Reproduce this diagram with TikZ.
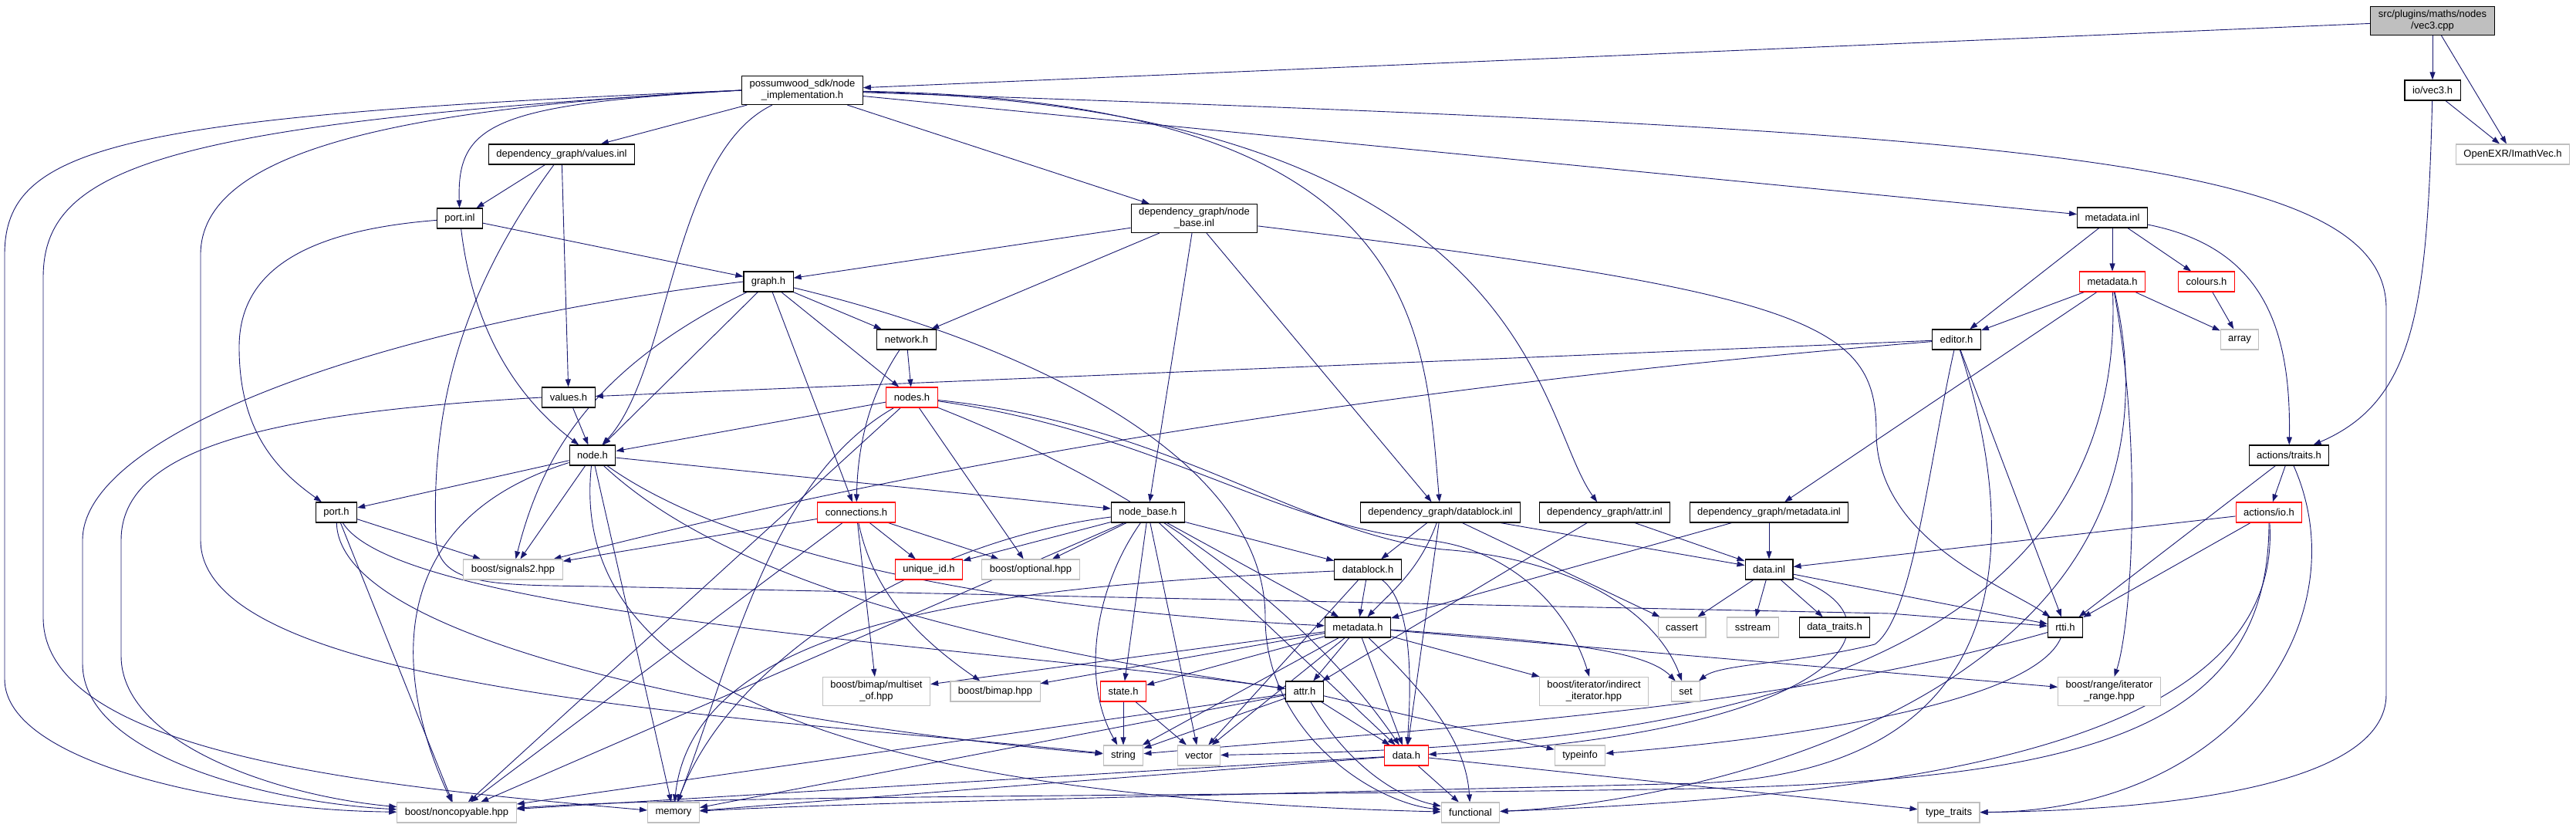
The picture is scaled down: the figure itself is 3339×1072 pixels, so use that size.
\documentclass[tikz,border=0pt]{standalone}
\usepackage{fontspec}
\setmainfont{Liberation Sans}
\usetikzlibrary{arrows.meta,backgrounds}
\definecolor{edgeblue}{HTML}{191970}
\definecolor{sysgrey}{HTML}{BFBFBF}
\definecolor{mainfill}{HTML}{BFBFBF}

\begin{document}
\begin{tikzpicture}[x=1pt,y=-1pt,
    hdr/.style={draw=black,line width=1.1pt,fill=white,inner xsep=10pt,inner ysep=5pt,
      minimum height=26pt,align=center,font=\fontsize{13}{15}\selectfont},
    hdrred/.style={hdr,draw=red},
    hdrsys/.style={hdr,draw=sysgrey},
    hdrmain/.style={hdr,fill=mainfill},
    incl/.style={edgeblue,line width=0.9pt,-{Triangle[length=10pt,width=7pt]}}]
  \useasboundingbox (0,0) rectangle (3339,1072);
  \node[hdrmain] (vec3cpp) at (3153,27) {src/plugins/maths/nodes\\/vec3.cpp};
  \node[hdr] (nodeimpl) at (1040,117) {possumwood\_sdk/node\\\_implementation.h};
  \node[hdr] (iovec) at (3153,117) {io/vec3.h};
  \node[hdrsys] (imathvec) at (3257,200) {OpenEXR/ImathVec.h};
  \node[hdr] (valuesinl) at (728,200) {dependency\_graph/values.inl};
  \node[hdr] (portinl) at (596,283) {port.inl};
  \node[hdr] (nodebaseinl) at (1548,283) {dependency\_graph/node\\\_base.inl};
  \node[hdr] (metainl) at (2738,282) {metadata.inl};
  \node[hdr] (graphh) at (996,365) {graph.h};
  \node[hdrred] (metaredh) at (2738,365) {metadata.h};
  \node[hdrred] (coloursh) at (2860,365) {colours.h};
  \node[hdr] (networkh) at (1175,440) {network.h};
  \node[hdr] (editorh) at (2536,440) {editor.h};
  \node[hdrsys] (arrayh) at (2903,440) {array};
  \node[hdr] (valuesh) at (737,515) {values.h};
  \node[hdrred] (nodesh) at (1182,515) {nodes.h};
  \node[hdr] (nodeh) at (768,590) {node.h};
  \node[hdr] (traitsh) at (2967,590) {actions/traits.h};
  \node[hdr] (porth) at (436,664) {port.h};
  \node[hdrred] (connh) at (1110,664) {connections.h};
  \node[hdr] (nodebaseh) at (1488,664) {node\_base.h};
  \node[hdr] (datablockinl) at (1867,664) {dependency\_graph/datablock.inl};
  \node[hdr] (attrinl) at (2080,664) {dependency\_graph/attr.inl};
  \node[hdr] (dgmetainl) at (2293,664) {dependency\_graph/metadata.inl};
  \node[hdrred] (ioh) at (2941,664) {actions/io.h};
  \node[hdrsys] (signals) at (665,738) {boost/signals2.hpp};
  \node[hdrred] (uniqueid) at (1204,738) {unique\_id.h};
  \node[hdrsys] (optional) at (1336,738) {boost/optional.hpp};
  \node[hdr] (datablockh) at (1773,738) {datablock.h};
  \node[hdr] (datainl) at (2293,738) {data.inl};
  \node[hdr] (metah) at (1760,813) {metadata.h};
  \node[hdrsys] (cassert) at (2180,813) {cassert};
  \node[hdrsys] (sstream) at (2272,813) {sstream};
  \node[hdr] (datatraits) at (2378,813) {data\_traits.h};
  \node[hdr] (rttih) at (2677,813) {rtti.h};
  \node[hdrsys] (multiset) at (1136,896) {boost/bimap/multiset\\\_of.hpp};
  \node[hdrsys] (bimap) at (1290,896) {boost/bimap.hpp};
  \node[hdrred] (stateh) at (1456,896) {state.h};
  \node[hdr] (attrh) at (1691,896) {attr.h};
  \node[hdrsys] (indirect) at (2066,896) {boost/iterator/indirect\\\_iterator.hpp};
  \node[hdrsys] (seth) at (2185,896) {set};
  \node[hdrsys] (range) at (2734,896) {boost/range/iterator\\\_range.hpp};
  \node[hdrsys] (stringh) at (1456,979) {string};
  \node[hdrsys] (vectorh) at (1554,979) {vector};
  \node[hdrred] (datah) at (1823,979) {data.h};
  \node[hdrsys] (typeinfo) at (2048,979) {typeinfo};
  \node[hdrsys] (noncopy) at (592,1053) {boost/noncopyable.hpp};
  \node[hdrsys] (memory) at (873,1053) {memory};
  \node[hdrsys] (functional) at (1906,1053) {functional};
  \node[hdrsys] (typetraits) at (2526,1053) {type\_traits};
  \begin{scope}[on background layer]
    \fill[white] (0,0) rectangle (3339,1072);
    \draw[incl] (vec3cpp) -- (nodeimpl);
    \draw[incl] (vec3cpp) -- (iovec);
    \draw[incl] (vec3cpp) -- (imathvec);
    \draw[incl] (iovec) -- (imathvec);
    \draw[incl] (iovec) .. controls (3146,400) and (3130,520) .. (traitsh);
    \draw[incl] (nodeimpl) -- (valuesinl);
    \draw[incl] (nodeimpl) -- (nodebaseinl);
    \draw[incl] (nodeimpl) -- (metainl);
    \draw[incl] (nodeimpl.west) .. controls (640,135) and (592,160) .. (portinl);
    \draw[incl] (nodeimpl) .. controls (870,200) and (870,480) .. (nodeh);
    \draw[incl] (nodeimpl) .. controls (1846,130) and (1846,420) .. (datablockinl);
    \draw[incl] (nodeimpl) .. controls (1990,140) and (1990,540) .. (attrinl);
    \draw[incl] (nodeimpl) .. controls (2600,170) and (3093,200) .. (3093,400) -- (3093,900)
      .. controls (3093,1020) and (2800,1050) .. (typetraits);
    \draw[incl] (nodeimpl.west) .. controls (150,150) and (6,190) .. (6,330) -- (6,880)
      .. controls (6,990) and (300,1050) .. (noncopy);
    \draw[incl] (nodeimpl.west) .. controls (200,160) and (56,220) .. (56,360) -- (56,800)
      .. controls (56,980) and (500,1020) .. (memory);
    \draw[incl] (nodeimpl.west) .. controls (500,140) and (260,200) .. (260,330) -- (260,700)
      .. controls (260,900) and (1000,930) .. (stringh);
    \draw[incl] (valuesinl) -- (portinl);
    \draw[incl] (valuesinl) -- (valuesh);
    \draw[incl] (valuesinl) .. controls (580,400) and (560,560) .. (565,700)
      .. controls (570,760) and (640,758) .. (780,760) -- (2450,795) -- (rttih);
    \draw[incl] (portinl) -- (graphh);
    \draw[incl] (portinl) .. controls (610,400) and (650,500) .. (nodeh);
    \draw[incl] (portinl) .. controls (380,300) and (310,360) .. (310,450)
      .. controls (310,560) and (360,610) .. (porth);
    \draw[incl] (nodebaseinl) -- (graphh);
    \draw[incl] (nodebaseinl) -- (networkh);
    \draw[incl] (nodebaseinl) -- (nodebaseh);
    \draw[incl] (nodebaseinl) -- (datablockinl);
    \draw[incl] (nodebaseinl) .. controls (2350,380) and (2432,420) .. (2432,560)
      .. controls (2432,700) and (2600,760) .. (rttih);
    \draw[incl] (metainl) -- (metaredh);
    \draw[incl] (metainl) -- (coloursh);
    \draw[incl] (metainl) -- (editorh);
    \draw[incl] (metainl) .. controls (2930,320) and (2970,420) .. (traitsh);
    \draw[incl] (graphh) -- (networkh);
    \draw[incl] (graphh) -- (nodesh);
    \draw[incl] (graphh) -- (nodeh);
    \draw[incl] (graphh) -- (connh);
    \draw[incl] (graphh) .. controls (760,480) and (700,600) .. (signals);
    \draw[incl] (graphh.west) .. controls (500,420) and (107,560) .. (107,700) -- (107,860)
      .. controls (107,980) and (350,1040) .. (noncopy);
    \draw[incl] (graphh) .. controls (1350,450) and (1640,600) .. (1640,800)
      .. controls (1640,950) and (1780,1040) .. (functional);
    \draw[incl] (metaredh) -- (editorh);
    \draw[incl] (metaredh) -- (arrayh);
    \draw[incl] (metaredh) -- (dgmetainl);
    \draw[incl] (metaredh) .. controls (2780,600) and (2760,820) .. (range);
    \draw[incl] (metaredh) .. controls (2760,950) and (2000,970) .. (vectorh);
    \draw[incl] (metaredh) .. controls (2860,900) and (2200,1040) .. (functional);
    \draw[incl] (coloursh) -- (arrayh);
    \draw[incl] (networkh) -- (nodesh);
    \draw[incl] (networkh) .. controls (1135,500) and (1112,560) .. (connh);
    \draw[incl] (editorh) -- (valuesh);
    \draw[incl] (editorh) .. controls (1800,500) and (1200,600) .. (signals);
    \draw[incl] (editorh) -- (rttih);
    \draw[incl] (editorh) .. controls (2500,600) and (2480,800) .. (2430,835)
      .. controls (2330,860) and (2230,860) .. (seth);
    \draw[incl] (editorh) .. controls (2620,700) and (2620,1000) .. (2200,1015)
      .. controls (1600,1030) and (1100,1040) .. (memory);
    \draw[incl] (valuesh) -- (nodeh);
    \draw[incl] (valuesh.west) .. controls (350,535) and (157,580) .. (157,700) -- (157,850)
      .. controls (157,960) and (350,1030) .. (noncopy);
    \draw[incl] (nodesh) -- (nodeh);
    \draw[incl] (nodesh) -- (noncopy);
    \draw[incl] (nodesh) .. controls (1000,620) and (950,850) .. (memory);
    \draw[incl] (nodesh) -- (optional);
    \draw[incl] (nodesh) .. controls (1500,640) and (1700,800) .. (datah);
    \draw[incl] (nodesh) .. controls (1500,560) and (1650,680) .. (1850,700)
      .. controls (1950,710) and (2030,780) .. (indirect);
    \draw[incl] (nodesh) .. controls (1520,550) and (1680,690) .. (1870,712)
      .. controls (2050,725) and (2150,800) .. (seth);
    \draw[incl] (nodeh) -- (porth);
    \draw[incl] (nodeh) -- (nodebaseh);
    \draw[incl] (nodeh) -- (signals);
    \draw[incl] (nodeh) .. controls (480,680) and (520,900) .. (noncopy);
    \draw[incl] (nodeh) -- (memory);
    \draw[incl] (nodeh) .. controls (950,720) and (1300,790) .. (metah);
    \draw[incl] (nodeh) .. controls (950,760) and (1300,840) .. (attrh);
    \draw[incl] (nodeh) .. controls (740,850) and (1000,1030) .. (functional);
    \draw[incl] (traitsh) -- (ioh);
    \draw[incl] (traitsh) -- (rttih);
    \draw[incl] (traitsh) .. controls (3060,800) and (2900,1050) .. (typetraits);
    \draw[incl] (porth) -- (signals);
    \draw[incl] (porth) -- (noncopy);
    \draw[incl] (porth) .. controls (440,850) and (1100,950) .. (stringh);
    \draw[incl] (porth) .. controls (520,800) and (1300,840) .. (attrh);
    \draw[incl] (connh) -- (signals);
    \draw[incl] (connh) -- (uniqueid);
    \draw[incl] (connh) -- (optional);
    \draw[incl] (connh) -- (multiset);
    \draw[incl] (connh) .. controls (1130,760) and (1180,820) .. (bimap);
    \draw[incl] (connh) -- (noncopy);
    \draw[incl] (nodebaseh) -- (uniqueid);
    \draw[incl] (nodebaseh) -- (optional);
    \draw[incl] (nodebaseh) -- (datablockh);
    \draw[incl] (nodebaseh) -- (metah);
    \draw[incl] (nodebaseh) -- (stateh);
    \draw[incl] (nodebaseh) .. controls (1420,760) and (1400,880) .. (stringh);
    \draw[incl] (nodebaseh) -- (vectorh);
    \draw[incl] (nodebaseh) -- (datah);
    \draw[incl] (nodebaseh) -- (noncopy);
    \draw[incl] (nodebaseh) .. controls (1200,700) and (950,850) .. (memory);
    \draw[incl] (datablockinl) -- (datablockh);
    \draw[incl] (datablockinl) .. controls (1840,740) and (1800,770) .. (metah);
    \draw[incl] (datablockinl) -- (datah);
    \draw[incl] (datablockinl) -- (datainl);
    \draw[incl] (datablockinl) -- (cassert);
    \draw[incl] (attrinl) -- (attrh);
    \draw[incl] (attrinl) -- (datainl);
    \draw[incl] (dgmetainl) -- (metah);
    \draw[incl] (dgmetainl) -- (datainl);
    \draw[incl] (ioh) -- (datainl);
    \draw[incl] (ioh) -- (rttih);
    \draw[incl] (ioh) .. controls (2960,960) and (2500,1030) .. (functional);
    \draw[incl] (ioh) .. controls (2941,950) and (2700,1010) .. (2200,1022)
      .. controls (1600,1032) and (900,1030) .. (noncopy);
    \draw[incl] (datablockh) -- (metah);
    \draw[incl] (datablockh) .. controls (1830,780) and (1830,880) .. (datah);
    \draw[incl] (datablockh) -- (vectorh);
    \draw[incl] (datablockh) .. controls (1300,760) and (900,800) .. (memory);
    \draw[incl] (datainl) -- (cassert);
    \draw[incl] (datainl) -- (sstream);
    \draw[incl] (datainl) -- (datatraits);
    \draw[incl] (datainl) -- (rttih);
    \draw[incl] (datainl) .. controls (2480,800) and (2400,950) .. (datah);
    \draw[incl] (metah) -- (multiset);
    \draw[incl] (metah) -- (bimap);
    \draw[incl] (metah) -- (stateh);
    \draw[incl] (metah) -- (stringh);
    \draw[incl] (metah) -- (vectorh);
    \draw[incl] (metah) -- (attrh);
    \draw[incl] (metah) -- (datah);
    \draw[incl] (metah) .. controls (1850,900) and (1900,960) .. (functional);
    \draw[incl] (metah) -- (indirect);
    \draw[incl] (metah) .. controls (2000,830) and (2130,840) .. (seth);
    \draw[incl] (metah) -- (range);
    \draw[incl] (rttih) .. controls (2300,920) and (1900,940) .. (stringh);
    \draw[incl] (rttih) .. controls (2640,900) and (2400,950) .. (typeinfo);
    \draw[incl] (stateh) -- (stringh);
    \draw[incl] (stateh) -- (vectorh);
    \draw[incl] (attrh) -- (stringh);
    \draw[incl] (attrh) -- (datah);
    \draw[incl] (attrh) .. controls (1740,980) and (1800,1030) .. (functional);
    \draw[incl] (attrh) -- (typeinfo);
    \draw[incl] (attrh) -- (noncopy);
    \draw[incl] (attrh) -- (memory);
    \draw[incl] (datah) -- (noncopy);
    \draw[incl] (datah) -- (memory);
    \draw[incl] (datah) -- (functional);
    \draw[incl] (datah) -- (typetraits);
  \end{scope}
\end{tikzpicture}
\end{document}
